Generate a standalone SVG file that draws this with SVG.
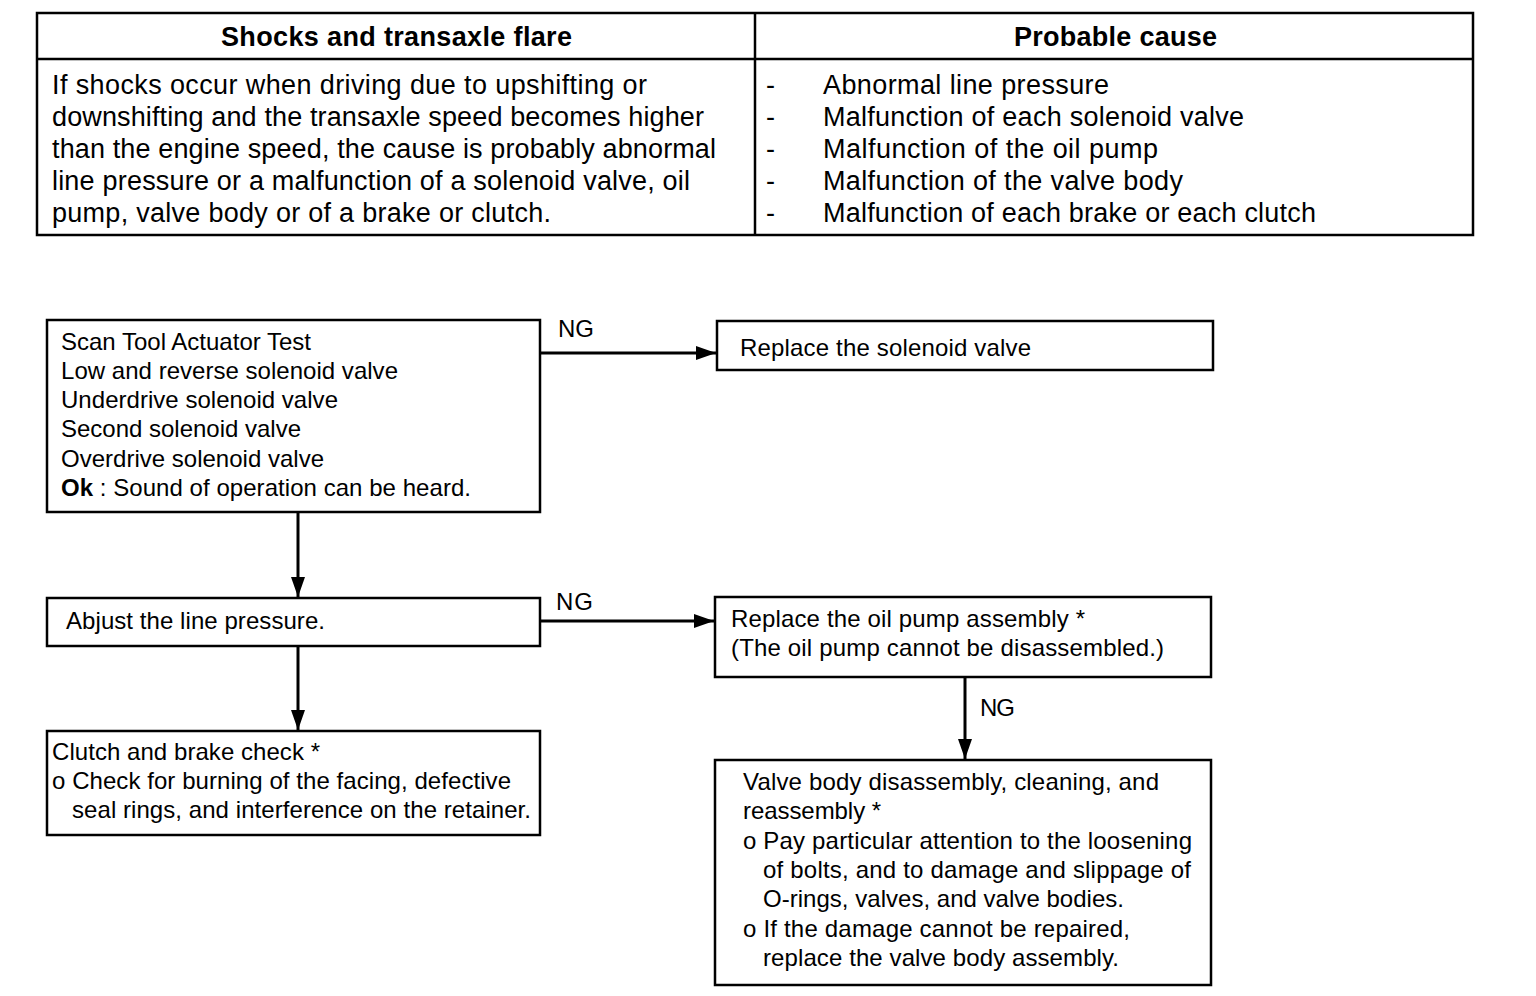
<svg xmlns="http://www.w3.org/2000/svg" width="1536" height="996" viewBox="0 0 1536 996">
<defs>
<style>
text{font-family:"Liberation Sans",Arial,Helvetica,sans-serif;fill:#000}
.t{font-size:27px}
.h{font-size:27px;font-weight:bold}
.f{font-size:24px}
.box{fill:#fff;stroke:#000;stroke-width:2.5}
.ln{stroke:#000;stroke-width:2.5;fill:none}
.c{stroke:#000;stroke-width:3;fill:none}
</style>
<marker id="ah" markerUnits="userSpaceOnUse" markerWidth="20" markerHeight="14" refX="20" refY="7" orient="auto">
<path d="M0,0 L20,7 L0,14 z" fill="#000"/>
</marker>
</defs>
<rect width="1536" height="996" fill="#fff"/>
<g id="table">
<rect class="box" x="37" y="13" width="1436" height="222"/>
<line class="ln" x1="37" y1="59" x2="1473" y2="59"/>
<line class="ln" x1="755" y1="13" x2="755" y2="235"/>
<text class="h" x="221" y="46" textLength="351" lengthAdjust="spacing">Shocks and transaxle flare</text>
<text class="h" x="1014" y="46" textLength="203" lengthAdjust="spacing">Probable cause</text>
<text class="t" x="52" y="94" textLength="595" lengthAdjust="spacing">If shocks occur when driving due to upshifting or</text>
<text class="t" x="52" y="126" textLength="652" lengthAdjust="spacing">downshifting and the transaxle speed becomes higher</text>
<text class="t" x="52" y="158" textLength="664" lengthAdjust="spacing">than the engine speed, the cause is probably abnormal</text>
<text class="t" x="52" y="190" textLength="638" lengthAdjust="spacing">line pressure or a malfunction of a solenoid valve, oil</text>
<text class="t" x="52" y="222" textLength="499" lengthAdjust="spacing">pump, valve body or of a brake or clutch.</text>
<text class="t" x="766" y="94">-</text>
<text class="t" x="766" y="126">-</text>
<text class="t" x="766" y="158">-</text>
<text class="t" x="766" y="190">-</text>
<text class="t" x="766" y="222">-</text>
<text class="t" x="823" y="94" textLength="286" lengthAdjust="spacing">Abnormal line pressure</text>
<text class="t" x="823" y="126" textLength="421" lengthAdjust="spacing">Malfunction of each solenoid valve</text>
<text class="t" x="823" y="158" textLength="335" lengthAdjust="spacing">Malfunction of the oil pump</text>
<text class="t" x="823" y="190" textLength="360" lengthAdjust="spacing">Malfunction of the valve body</text>
<text class="t" x="823" y="222" textLength="493" lengthAdjust="spacing">Malfunction of each brake or each clutch</text>
</g>
<g id="connectors">
<line class="c" x1="540" y1="353" x2="716" y2="353" marker-end="url(#ah)"/>
<line class="c" x1="298" y1="512" x2="298" y2="597" marker-end="url(#ah)"/>
<line class="c" x1="540" y1="621" x2="714" y2="621" marker-end="url(#ah)"/>
<line class="c" x1="298" y1="646" x2="298" y2="730" marker-end="url(#ah)"/>
<line class="c" x1="965" y1="677" x2="965" y2="759" marker-end="url(#ah)"/>
<text class="f" x="558" y="337" textLength="36" lengthAdjust="spacing">NG</text>
<text class="f" x="556" y="610" textLength="37" lengthAdjust="spacing">NG</text>
<text class="f" x="980" y="716" textLength="35" lengthAdjust="spacing">NG</text>
</g>
<g id="n1">
<rect class="box" x="47" y="320" width="493" height="192"/>
<text class="f" x="61" y="350" textLength="250" lengthAdjust="spacing">Scan Tool Actuator Test</text>
<text class="f" x="61" y="379" textLength="337" lengthAdjust="spacing">Low and reverse solenoid valve</text>
<text class="f" x="61" y="408" textLength="277" lengthAdjust="spacing">Underdrive solenoid valve</text>
<text class="f" x="61" y="437" textLength="240" lengthAdjust="spacing">Second solenoid valve</text>
<text class="f" x="61" y="467" textLength="263" lengthAdjust="spacing">Overdrive solenoid valve</text>
<text class="f" x="61" y="496" textLength="410" lengthAdjust="spacing"><tspan font-weight="bold">Ok</tspan> : Sound of operation can be heard.</text>
</g>
<g id="n2">
<rect class="box" x="717" y="321" width="496" height="49"/>
<text class="f" x="740" y="356" textLength="291" lengthAdjust="spacing">Replace the solenoid valve</text>
</g>
<g id="n3">
<rect class="box" x="47" y="598" width="493" height="48"/>
<text class="f" x="66" y="629" textLength="259" lengthAdjust="spacing">Abjust the line pressure.</text>
</g>
<g id="n4">
<rect class="box" x="715" y="597" width="496" height="80"/>
<text class="f" x="731" y="627" textLength="354" lengthAdjust="spacing">Replace the oil pump assembly *</text>
<text class="f" x="731" y="656" textLength="433" lengthAdjust="spacing">(The oil pump cannot be disassembled.)</text>
</g>
<g id="n5">
<rect class="box" x="47" y="731" width="493" height="104"/>
<text class="f" x="52" y="760" textLength="268" lengthAdjust="spacing">Clutch and brake check *</text>
<text class="f" x="52" y="789" textLength="459" lengthAdjust="spacing">o Check for burning of the facing, defective</text>
<text class="f" x="72" y="818" textLength="459" lengthAdjust="spacing">seal rings, and interference on the retainer.</text>
</g>
<g id="n6">
<rect class="box" x="715" y="760" width="496" height="225"/>
<text class="f" x="743" y="790" textLength="416" lengthAdjust="spacing">Valve body disassembly, cleaning, and</text>
<text class="f" x="743" y="819" textLength="138" lengthAdjust="spacing">reassembly *</text>
<text class="f" x="743" y="849" textLength="449" lengthAdjust="spacing">o Pay particular attention to the loosening</text>
<text class="f" x="763" y="878" textLength="428" lengthAdjust="spacing">of bolts, and to damage and slippage of</text>
<text class="f" x="763" y="907" textLength="361" lengthAdjust="spacing">O-rings, valves, and valve bodies.</text>
<text class="f" x="743" y="937" textLength="387" lengthAdjust="spacing">o If the damage cannot be repaired,</text>
<text class="f" x="763" y="966" textLength="356" lengthAdjust="spacing">replace the valve body assembly.</text>
</g>
</svg>
